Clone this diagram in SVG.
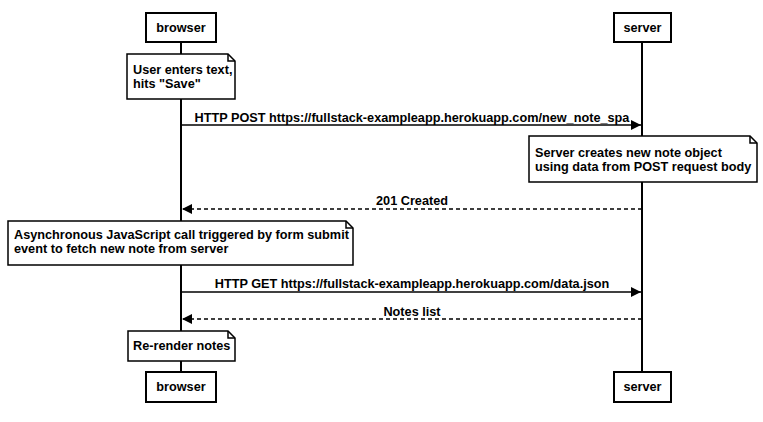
<svg xmlns="http://www.w3.org/2000/svg" width="763" height="422" viewBox="0 0 763 422">
<defs>
<style>
text{font-family:"Liberation Sans",Arial,sans-serif;font-size:12.7px;font-weight:bold;fill:#000}
.c{text-anchor:middle}
.box{fill:#fff;stroke:#000;stroke-width:2}
.note{fill:#fff;stroke:#000;stroke-width:1.5}
.fold{fill:none;stroke:#000;stroke-width:1.5}
.life{stroke:#000;stroke-width:2}
.msg{stroke:#000;stroke-width:1.5;fill:none}
.dash{stroke-dasharray:4 3}
</style>
<marker id="ah" viewBox="0 0 10 10" refX="10" refY="5" markerWidth="10" markerHeight="10" markerUnits="userSpaceOnUse" orient="auto">
<path d="M0,0 L10,5 L0,10 Z" fill="#000"/>
</marker>
</defs>
<rect width="763" height="422" fill="#fff"/>
<g id="lifelines">
<line class="life" x1="181" y1="42" x2="181" y2="372"/>
<line class="life" x1="642" y1="42" x2="642" y2="372"/>
</g>
<g id="browser-top"><rect class="box" x="146" y="13" width="70" height="29"/><text class="c" x="181" y="32">browser</text></g>
<g id="server-top"><rect class="box" x="614" y="13" width="57" height="29"/><text class="c" x="642.5" y="32">server</text></g>
<g id="browser-bottom"><rect class="box" x="146" y="372" width="70" height="30"/><text class="c" x="181" y="391">browser</text></g>
<g id="server-bottom"><rect class="box" x="614" y="372" width="57" height="30"/><text class="c" x="642.5" y="391">server</text></g>
<g id="connectors">
<line class="msg" x1="181" y1="125" x2="641" y2="125" marker-end="url(#ah)"/>
<text class="c" x="412" y="122">HTTP POST https://fullstack-exampleapp.herokuapp.com/new_note_spa</text>
<line class="msg dash" x1="642" y1="209" x2="182" y2="209" marker-end="url(#ah)"/>
<text class="c" x="412" y="205">201 Created</text>
<line class="msg" x1="181" y1="292" x2="641" y2="292" marker-end="url(#ah)"/>
<text class="c" x="412" y="288">HTTP GET https://fullstack-exampleapp.herokuapp.com/data.json</text>
<line class="msg dash" x1="642" y1="319" x2="182" y2="319" marker-end="url(#ah)"/>
<text class="c" x="412" y="316">Notes list</text>
</g>
<g id="note1">
<path class="note" d="M127,54 H228 L235,61 V99 H127 Z"/><path class="fold" d="M228,54 V61 H235"/>
<text x="133" y="74">User enters text,</text><text x="133" y="88">hits "Save"</text>
</g>
<g id="note2">
<path class="note" d="M529,136 H750 L757,143 V182 H529 Z"/><path class="fold" d="M750,136 V143 H757"/>
<text x="535" y="157">Server creates new note object</text><text x="535" y="171">using data from POST request body</text>
</g>
<g id="note3">
<path class="note" d="M8,221 H346 L353,228 V265 H8 Z"/><path class="fold" d="M346,221 V228 H353"/>
<text x="14" y="239">Asynchronous JavaScript call triggered by form submit</text><text x="14" y="253">event to fetch new note from server</text>
</g>
<g id="note4">
<path class="note" d="M128,331 H228 L235,338 V361 H128 Z"/><path class="fold" d="M228,331 V338 H235"/>
<text x="133" y="350">Re-render notes</text>
</g>
</svg>
